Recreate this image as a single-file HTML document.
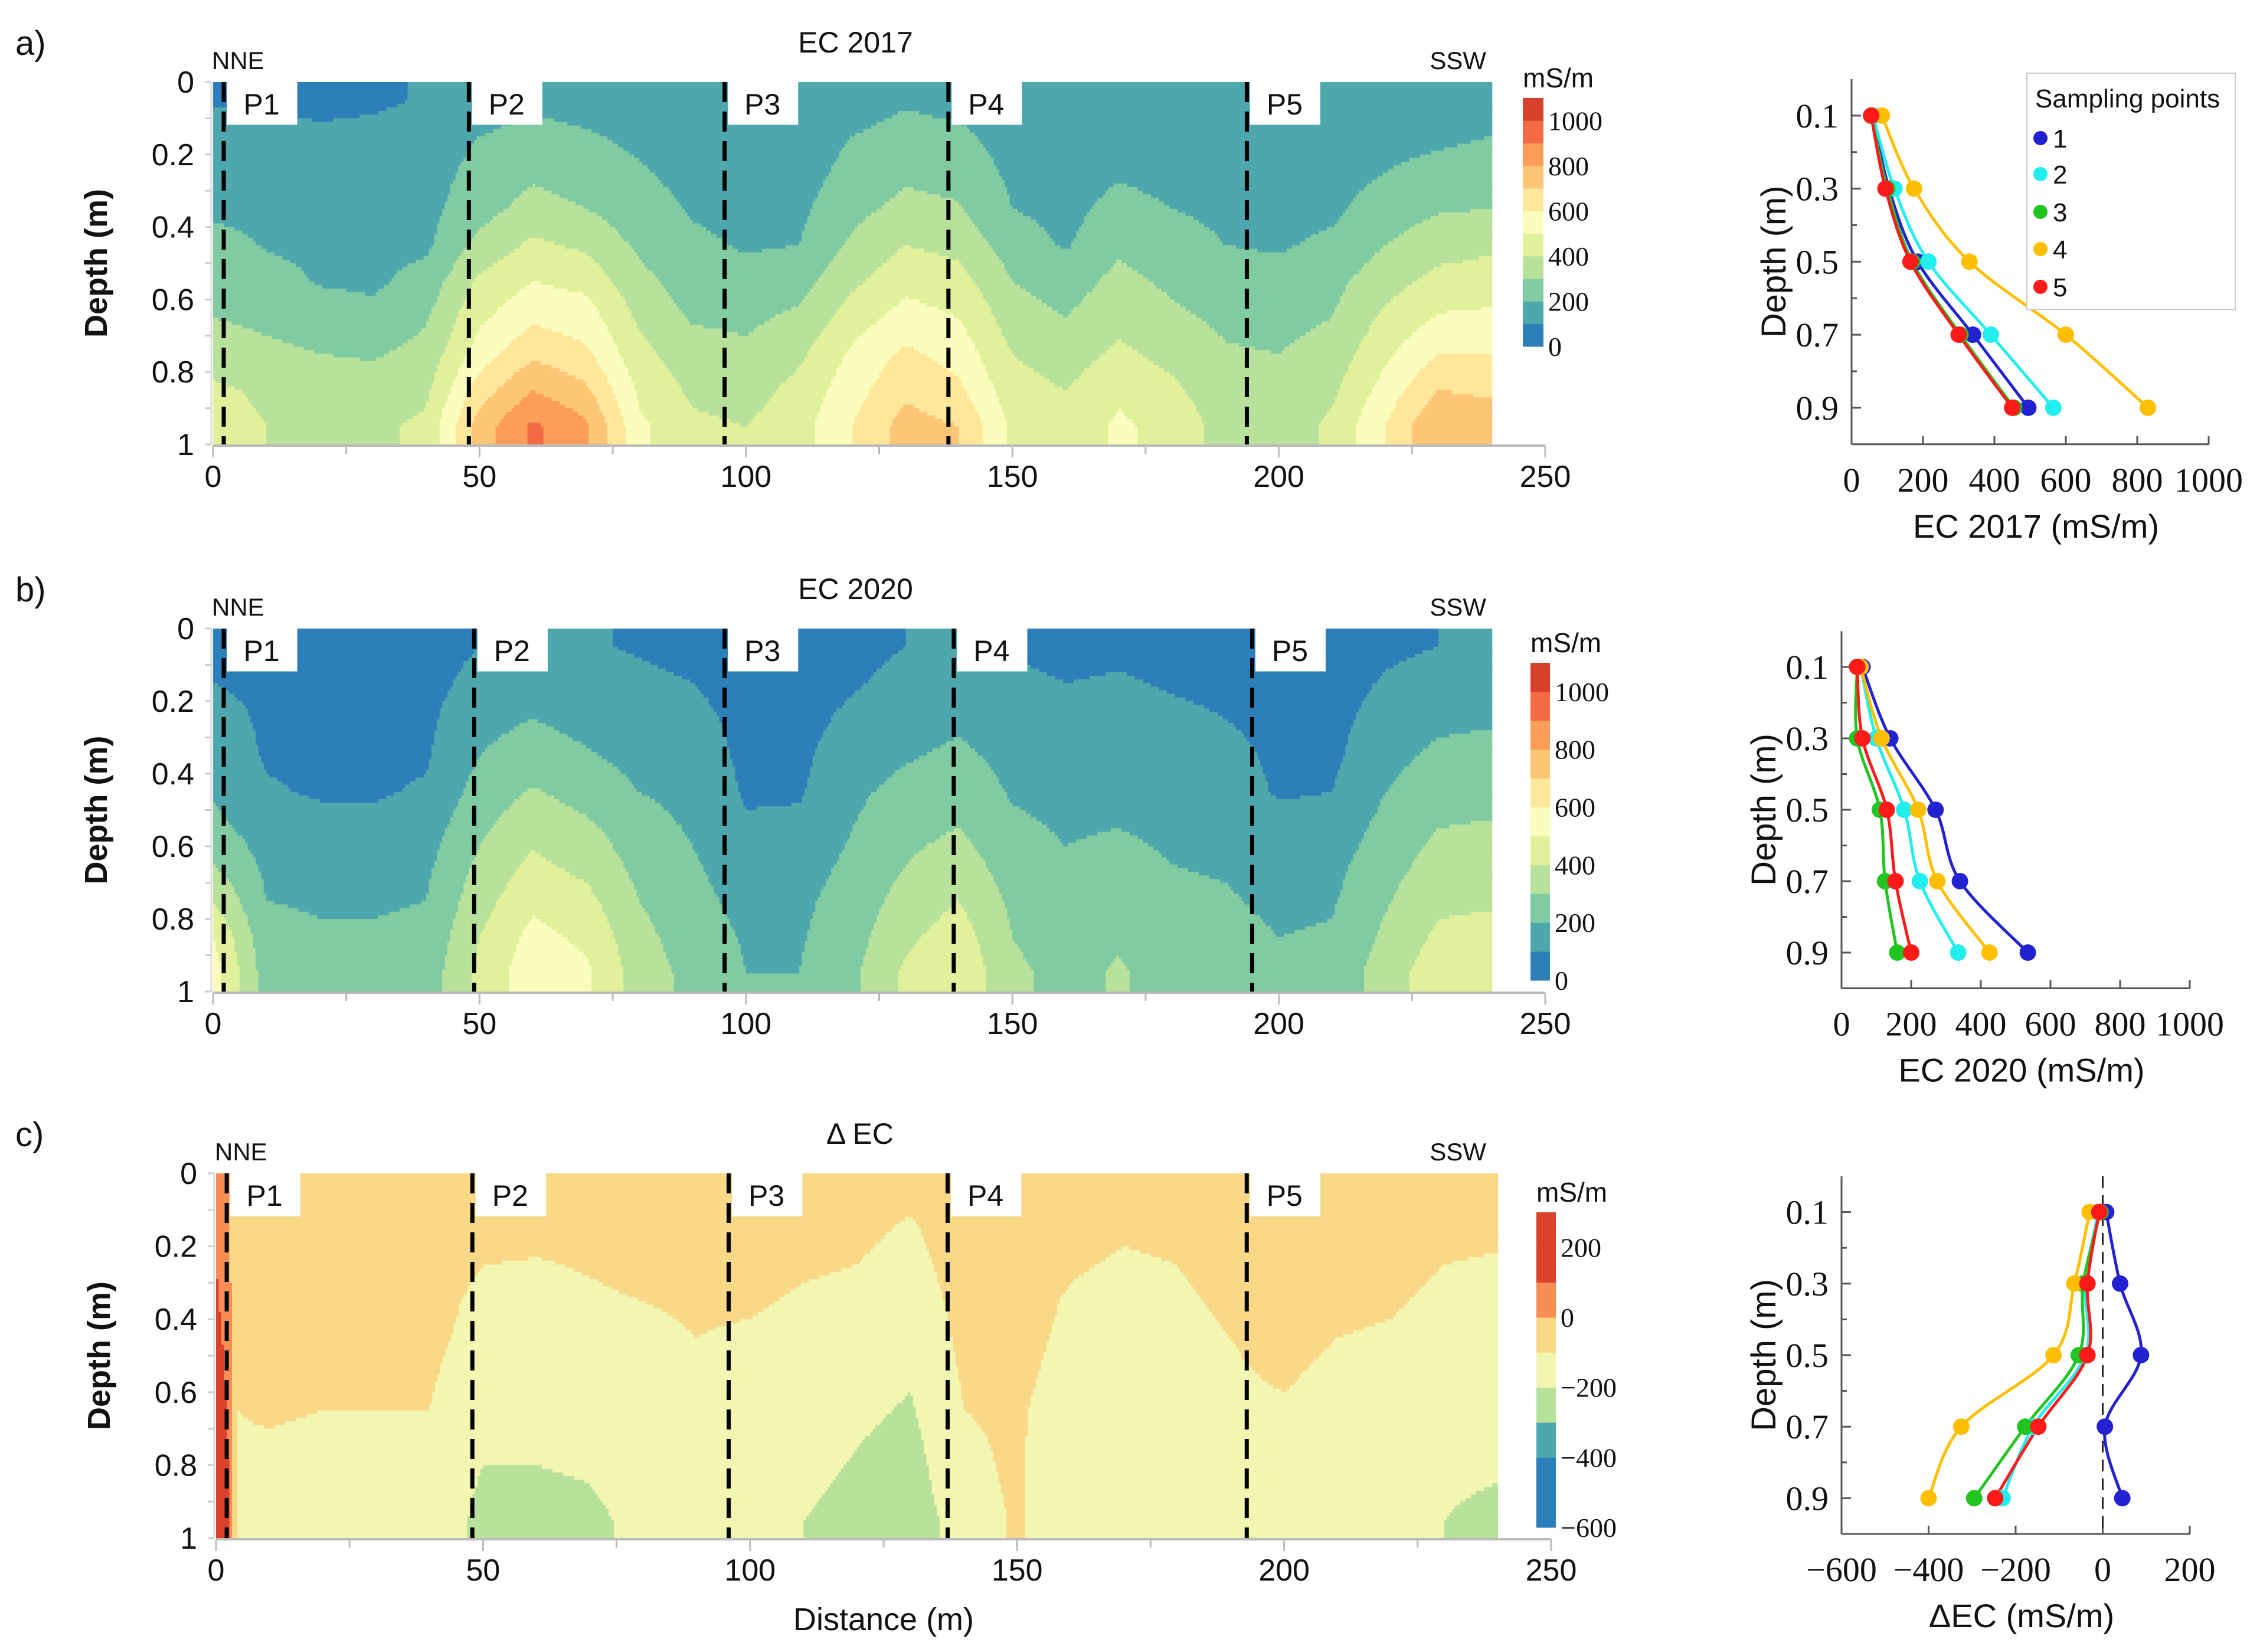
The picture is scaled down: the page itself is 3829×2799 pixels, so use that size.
<!DOCTYPE html>
<html><head><meta charset="utf-8">
<style>
html,body{margin:0;padding:0;background:#fff;}
svg{display:block;}
text{font-family:"Liberation Sans",sans-serif;fill:#111;}
text.narrow{font-family:"Liberation Sans Narrow","Liberation Sans",sans-serif;}
text.serif{font-family:"Liberation Serif",serif;}
</style></head>
<body>
<svg id="fig" width="3829" height="2799" viewBox="0 0 3829 2799" xmlns="http://www.w3.org/2000/svg">
<rect width="3829" height="2799" fill="#fff"/>
</svg>
<script>
// ---------- data ----------
const depthRows = [0.05,0.15,0.25,0.35,0.45,0.55,0.65,0.75,0.85,0.95];
const xsAB = [0,10,20,30,40,50,60,70,80,90,100,110,120,130,140,150,160,170,180,190,200,210,220,230,240];
const ec2017Grid = [
[90,150,160,170,250,280,300,350,420,450],
[80,140,160,170,190,250,280,320,380,400],
[70,120,150,160,170,190,260,300,350,380],
[80,130,150,160,170,180,230,290,340,380],
[110,150,160,170,180,240,290,330,380,420],
[150,200,230,260,330,420,480,550,650,750],
[180,230,280,340,420,500,580,680,800,920],
[160,210,250,300,380,470,550,620,720,820],
[140,180,210,240,280,330,380,430,480,520],
[130,150,170,190,220,250,290,340,380,420],
[110,140,160,170,190,230,280,320,360,400],
[130,150,160,180,200,260,320,380,430,460],
[160,200,230,270,320,380,450,520,560,600],
[190,230,280,330,400,470,540,620,680,740],
[170,220,260,310,370,440,500,560,620,700],
[130,160,180,200,250,300,350,400,440,480],
[110,140,160,170,190,250,300,350,400,430],
[130,160,190,230,280,330,370,420,480,520],
[120,150,170,200,240,280,320,370,420,460],
[110,140,160,180,200,240,280,310,340,360],
[100,140,160,170,190,230,270,300,320,340],
[110,140,160,180,220,270,300,340,380,420],
[130,170,200,250,300,360,420,480,540,600],
[140,180,230,290,360,430,510,600,700,800],
[150,200,250,300,380,450,520,600,680,760]];
const ec2020Grid = [
[80,100,150,170,190,230,300,400,500,550],
[60,70,80,90,110,150,180,200,230,250],
[50,60,70,80,90,130,170,190,210,230],
[50,60,70,80,90,120,170,190,210,230],
[60,70,80,90,110,150,180,200,220,240],
[100,130,170,200,240,280,320,360,400,430],
[120,160,200,250,310,370,420,480,530,560],
[110,140,170,210,260,320,370,430,480,520],
[90,120,150,170,200,240,270,300,330,350],
[70,100,130,150,170,190,210,230,250,270],
[50,60,70,80,90,110,150,170,190,200],
[50,60,70,80,90,120,160,180,190,200],
[70,90,120,150,180,200,220,240,260,280],
[100,130,160,190,230,270,300,340,380,420],
[120,150,180,220,260,300,350,400,450,480],
[90,120,150,170,190,220,250,280,300,320],
[70,100,130,150,170,190,210,230,250,270],
[80,110,140,160,180,200,230,260,290,310],
[70,90,120,140,160,180,200,220,240,260],
[60,80,100,130,150,170,190,210,230,250],
[50,60,70,80,90,130,160,180,200,220],
[50,60,70,80,100,140,170,190,210,230],
[80,110,140,170,200,230,260,290,320,350],
[100,140,180,220,260,300,340,380,420,460],
[110,150,190,230,270,310,350,390,430,470]];
const xsC = [0,2,4,10,20,30,40,50,60,70,80,90,100,110,120,130,140,150,160,170,180,190,200,210,220,230,240];
const dEcGrid = [
[80,90,100,120,150,200,220,250,280,300],
[20,30,40,50,60,80,100,120,150,180],
[-50,-60,-70,-80,-90,-95,-100,-105,-110,-115],
[-50,-60,-70,-80,-85,-90,-95,-105,-115,-120],
[-40,-50,-60,-70,-80,-90,-100,-110,-120,-110],
[-40,-50,-60,-70,-80,-90,-100,-105,-110,-115],
[-40,-50,-60,-70,-80,-90,-100,-110,-120,-130],
[-40,-60,-100,-120,-130,-150,-170,-190,-210,-230],
[-50,-80,-105,-120,-135,-150,-170,-190,-210,-240],
[-50,-70,-95,-110,-125,-140,-160,-180,-200,-215],
[-50,-60,-80,-100,-115,-130,-145,-160,-170,-180],
[-40,-50,-70,-90,-100,-110,-120,-130,-140,-150],
[-40,-50,-70,-90,-110,-130,-150,-160,-170,-170],
[-50,-70,-90,-110,-130,-140,-150,-160,-180,-200],
[-50,-80,-100,-120,-140,-160,-180,-200,-220,-240],
[-80,-110,-130,-150,-170,-190,-210,-230,-250,-270],
[-40,-50,-60,-70,-80,-90,-100,-110,-120,-140],
[-30,-40,-50,-60,-70,-80,-90,-90,-90,-90],
[-50,-70,-90,-110,-120,-130,-140,-150,-160,-170],
[-60,-90,-110,-130,-150,-160,-170,-180,-190,-200],
[-50,-80,-100,-120,-130,-140,-150,-160,-170,-180],
[-40,-50,-60,-80,-100,-110,-120,-130,-140,-150],
[-30,-40,-50,-60,-70,-90,-110,-130,-140,-150],
[-40,-50,-60,-80,-100,-120,-130,-140,-150,-160],
[-40,-50,-70,-90,-110,-130,-140,-150,-160,-170],
[-50,-70,-100,-120,-140,-160,-170,-180,-190,-200],
[-60,-80,-110,-130,-150,-170,-180,-190,-200,-220]];
const plotLines2017 = [2,48,96,138,194];
const plotLines2020 = [2,49,96,139,195];
const plotLinesD = [2,48,96,137,193];
const plotNames = ["P1","P2","P3","P4","P5"];
const distTicks = [0,50,100,150,200,250];
const depthTicks = [0,0.2,0.4,0.6,0.8,1];
const ecBarTicks = [0,200,400,600,800,1000];
const dBarTicks = [-600,-400,-200,0,200];
// profiles
const sampleDepths = [0.1,0.3,0.5,0.7,0.9];
const seriesNames = ["1","2","3","4","5"];
const seriesColors = ["#2222d0","#22eeee","#22c422","#ffbf00","#ff1a1a"];
const ec2017Series = [[60,105,185,340,495],[60,120,215,390,565],[55,100,170,305,455],[85,175,330,600,830],[55,95,165,300,450]];
const ec2020Series = [[60,140,270,340,535],[55,100,180,225,335],[45,45,110,125,160],[55,115,220,275,425],[45,60,130,155,200]];
const dEcSeries = [[8,40,88,5,45],[-10,-40,-40,-160,-230],[-5,-45,-55,-178,-295],[-30,-65,-113,-325,-400],[-8,-35,-35,-148,-247]];
const ecProfTicks = [0,200,400,600,800,1000];
const dProfTicks = [-600,-400,-200,0,200];
const profDepthTicks = [0.1,0.3,0.5,0.7,0.9];

const ecPalette = ["#2c7fb8","#4ea7ac","#80cba1","#b8e19c","#e1f09a","#fbfdbc","#fee79a","#fdc677","#fc9d59","#f26b44","#d7412c"];
const dPalette = ["#2c7fb8","#2c7fb8","#4ea7ac","#b8e19c","#f3f6b1","#f9d888","#f78e55","#dc412c","#dc412c"];

const NS="http://www.w3.org/2000/svg";
const svg=document.getElementById('fig');
function mk(tag,attrs,parent){const e=document.createElementNS(NS,tag);for(const k in attrs)e.setAttribute(k,attrs[k]);(parent||svg).appendChild(e);return e;}
function txt(s,x,y,size,opts,parent){const e=mk('text',Object.assign({x:x,y:y,'font-size':size},opts||{}),parent);e.textContent=s;return e;}

function interp(xs,grid,x,d){
  let i=0;while(i<xs.length-2&&x>xs[i+1])i++;
  let tx=(x-xs[i])/(xs[i+1]-xs[i]);tx=Math.max(0,Math.min(1,tx));
  let j=0;while(j<depthRows.length-2&&d>depthRows[j+1])j++;
  let ty=(d-depthRows[j])/(depthRows[j+1]-depthRows[j]);ty=Math.max(0,Math.min(1,ty));
  const a=grid[i][j]*(1-tx)+grid[i+1][j]*tx, b=grid[i][j+1]*(1-tx)+grid[i+1][j+1]*tx;
  return a*(1-ty)+b*ty;
}

function contourPanel(cfg){
  const g=mk('g',{});
  
  
  const X=v=>cfg.x0+(v/250)*(cfg.x1-cfg.x0);
  const Y=d=>cfg.y0+d*(cfg.y1-cfg.y0);
  const dx=0.5, dd=0.01;
  for(let r=0;r<100;r++){
    const d=(r+0.5)*dd;
    let runStart=0, runLvl=null;
    const nx=Math.round(240/dx);
    for(let c=0;c<=nx;c++){
      let lvl=null;
      if(c<nx){const v=interp(cfg.xs,cfg.grid,(c+0.5)*dx,d);lvl=Math.max(0,Math.min(cfg.palette.length-1,Math.floor((v-cfg.vmin)/cfg.step)));}
      if(lvl!==runLvl){
        if(runLvl!==null){
          const rc=mk('rect',{x:X(runStart*dx).toFixed(1),y:Y(r*dd).toFixed(1),width:(X(c*dx)-X(runStart*dx)+0.6).toFixed(1),height:(Y(dd)-Y(0)+0.6).toFixed(1),fill:cfg.palette[runLvl]},g);
          
          
        }
        runStart=c;runLvl=lvl;
      }
    }
  }
  cfg.lines.forEach((p,k)=>{
    const l=mk('line',{x1:X(p),x2:X(p),y1:Y(0),y2:Y(1),stroke:'#000','stroke-width':7,'stroke-dasharray':'34 16'},g);
    
    
    const bx=mk('rect',{x:X(p+0.6),y:Y(0),width:X(13.2)-X(0),height:Y(0.118)-Y(0),fill:'#fff'},g);
    
    
    const t=txt(plotNames[k],X(p+0.6)+28,Y(0)+55,50,{class:'narrow'},g);
    
    
  });
  const ax=mk('line',{x1:cfg.x0,x2:cfg.x1,y1:Y(1)+2,y2:Y(1)+2,stroke:'#bbb','stroke-width':4},g);
  
  
  mk('line',{x1:cfg.x0-3,x2:cfg.x0-3,y1:Y(0),y2:Y(1),stroke:'#ddd','stroke-width':3},g);
  for(let v=0;v<=250;v+=25){mk('line',{x1:X(v),x2:X(v),y1:Y(1)+2,y2:Y(1)+(v%50?16:22),stroke:'#bbb','stroke-width':3},g);}
  distTicks.forEach(v=>{const t=txt(String(v),X(v),Y(1)+72,52,{class:'narrow','text-anchor':'middle'},g);});
  for(let d=0;d<=1.001;d+=0.1){mk('line',{x1:cfg.x0-14,x2:cfg.x0-3,y1:Y(d),y2:Y(d),stroke:'#ccc','stroke-width':3},g);}
  depthTicks.forEach(d=>{const t=txt(String(d),cfg.x0-32,Y(d)+18,52,{class:'narrow','text-anchor':'end'},g);});
  const yt=txt('Depth (m)',0,0,54,{'font-weight':'bold','text-anchor':'middle',transform:`translate(${cfg.x0-180},${(Y(0)+Y(1))/2}) rotate(-90)`},g);
  
  const tt=txt(cfg.title,(cfg.x0+cfg.x1)/2-40,cfg.y0-50,50,{'text-anchor':'middle'},g);
  
  const n1=txt('NNE',cfg.x0-2,cfg.y0-22,42,{class:'narrow'},g);
  const n2=txt('SSW',2518,cfg.y0-22,42,{class:'narrow','text-anchor':'end'},g);
  const lt=txt(cfg.letter,26,cfg.y0-46,58,{},g);
  const cb=cfg.cb; const n=cfg.palette.length; const bh=(cb.bottom-cb.top)/n;
  const cg=mk('g',{},g);
  for(let i=0;i<n;i++){const r=mk('rect',{x:cb.x,y:cb.bottom-(i+1)*bh,width:cb.w,height:bh+0.5,fill:cfg.palette[i]},cg);}
  cfg.barTicks.forEach(v=>{const y=cb.bottom-(v-cfg.vmin)/cfg.step*bh;const t=txt(v<0?'\u2212'+(-v):String(v),cb.x+cb.w+8,y+16,46,{class:'serif'},cg);});
  const u=txt('mS/m',cb.x,cb.top-18,46,{},cg);
}

contourPanel({name:'ec2017',title:'EC 2017',letter:'a)',x0:361,x1:2618,y0:139,y1:753,xs:xsAB,grid:ec2017Grid,palette:ecPalette,vmin:0,step:100,lines:plotLines2017,barTicks:ecBarTicks,cb:{x:2580,w:35,top:166,bottom:587}});
contourPanel({name:'ec2020',title:'EC 2020',letter:'b)',x0:361,x1:2618,y0:1065,y1:1680,xs:xsAB,grid:ec2020Grid,palette:ecPalette,vmin:0,step:100,lines:plotLines2020,barTicks:ecBarTicks,cb:{x:2593,w:33,top:1123,bottom:1661}});
contourPanel({name:'delta-ec',title:'\u0394 EC',letter:'c)',x0:366,x1:2628,y0:1988,y1:2606,xs:xsC,grid:dEcGrid,palette:dPalette,vmin:-600,step:100,lines:plotLinesD,barTicks:dBarTicks,cb:{x:2603,w:33,top:2054,bottom:2588}});
const dl=txt('Distance (m)',1497,2762,54,{'text-anchor':'middle'});


function smoothPath(pts){
  let d=`M${pts[0][0]},${pts[0][1]}`;
  for(let i=0;i<pts.length-1;i++){
    const p0=pts[Math.max(0,i-1)],p1=pts[i],p2=pts[i+1],p3=pts[Math.min(pts.length-1,i+2)];
    const c1=[p1[0]+(p2[0]-p0[0])/6,p1[1]+(p2[1]-p0[1])/6],c2=[p2[0]-(p3[0]-p1[0])/6,p2[1]-(p3[1]-p1[1])/6];
    d+=` C${c1[0].toFixed(1)},${c1[1].toFixed(1)} ${c2[0].toFixed(1)},${c2[1].toFixed(1)} ${p2[0].toFixed(1)},${p2[1].toFixed(1)}`;
  }
  return d;
}
function profile(cfg){
  const g=mk('g',{});
  
  
  const X=v=>cfg.ax+(v-cfg.vmin)/(cfg.vmax-cfg.vmin)*(cfg.ax1-cfg.ax);
  const Y=d=>cfg.d0+d*cfg.k;
  const yb=Y(1);
  mk('line',{x1:cfg.ax,x2:cfg.ax,y1:Y(0),y2:yb,stroke:'#555','stroke-width':3},g);
  mk('line',{x1:cfg.ax,x2:cfg.ax1,y1:yb,y2:yb,stroke:'#555','stroke-width':3},g);
  for(let d=0.1;d<0.95;d+=0.1){mk('line',{x1:cfg.ax,x2:cfg.ax+ (Math.round(d*10)%2?16:9),y1:Y(d),y2:Y(d),stroke:'#555','stroke-width':3},g);}
  cfg.ticks.forEach(v=>{mk('line',{x1:X(v),x2:X(v),y1:yb,y2:yb-14,stroke:'#555','stroke-width':3},g);
    const t=txt(v<0?'\u2212'+(-v):String(v),X(v),yb+80,58,{class:'serif','text-anchor':'middle'},g);});
  profDepthTicks.forEach(d=>{const t=txt(String(d),cfg.ax-22,Y(d)+20,58,{class:'serif','text-anchor':'end'},g);});
  if(cfg.zero){mk('line',{x1:X(0),x2:X(0),y1:Y(0),y2:yb,stroke:'#222','stroke-width':3,'stroke-dasharray':'20 12'},g);}
  cfg.series.forEach((s,i)=>{
    const pts=s.map((v,j)=>[X(v),Y(sampleDepths[j])]);
    const p=mk('path',{d:smoothPath(pts),fill:'none',stroke:seriesColors[i],'stroke-width':5},g);
    
    
  });
  cfg.series.forEach((s,i)=>{s.forEach((v,j)=>{
    const c=mk('circle',{cx:X(v),cy:Y(sampleDepths[j]),r:14,fill:seriesColors[i]},g);
    
    
  });});
  const xt=txt(cfg.xtitle,(cfg.ax+cfg.ax1)/2+10,yb+158,56,{'text-anchor':'middle'},g);
  
  const yt=txt('Depth (m)',0,0,58,{'text-anchor':'middle',transform:`translate(${cfg.ax-112},${(Y(0)+yb)/2}) rotate(-90)`},g);
  
}
profile({name:'ec2017',ax:3137,ax1:3742,vmin:0,vmax:1000,d0:134,k:618.75,series:ec2017Series,ticks:ecProfTicks,xtitle:'EC 2017 (mS/m)'});
profile({name:'ec2020',ax:3120,ax1:3710,vmin:0,vmax:1000,d0:1069.5,k:605,series:ec2020Series,ticks:ecProfTicks,xtitle:'EC 2020 (mS/m)'});
profile({name:'delta-ec',ax:3120,ax1:3710,vmin:-600,vmax:200,d0:1993,k:606,series:dEcSeries,ticks:dProfTicks,xtitle:'\u0394EC (mS/m)',zero:true});

const lg=mk('g',{});


mk('rect',{x:3434,y:124,width:353,height:400,fill:'#fff',stroke:'#ccc','stroke-width':2},lg);
const lt=txt('Sampling points',3448,182,44,{},lg);

const legendYs=[234,295,359,422,486];
seriesNames.forEach((n,i)=>{
  const c=mk('circle',{cx:3457,cy:legendYs[i],r:12,fill:seriesColors[i]},lg);
  
  const t=txt(n,3478,legendYs[i]+16,44,{},lg);
  
});
</script>
</body></html>
